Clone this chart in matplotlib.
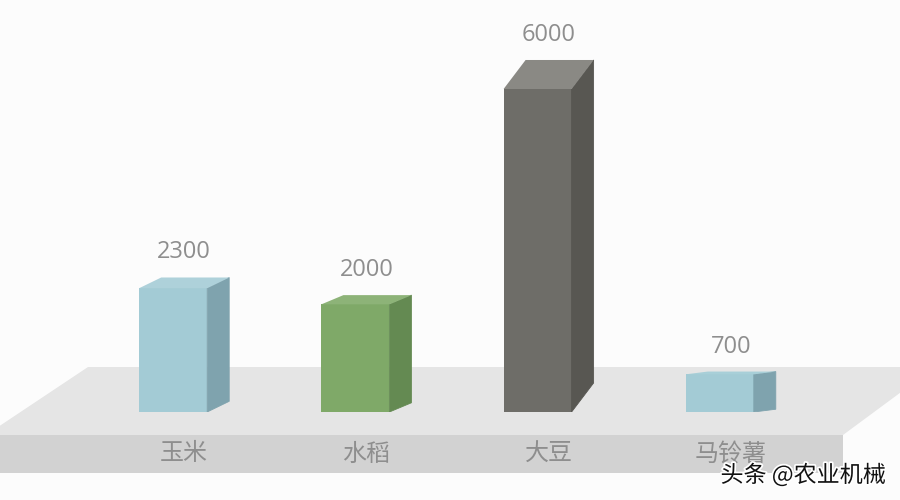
import numpy as np
from matplotlib import pyplot as plt
from matplotlib.patches import Polygon
import matplotlib.patheffects as pe

plt.rcParams['font.family'] = ['Noto Sans CJK SC', 'DejaVu Sans']

categories = ['玉米', '水稻', '大豆', '马铃薯']
values = [2300, 2000, 6000, 700]

front_colors = ['#a3cbd5', '#7fa968', '#6e6d68', '#a3cbd5']
side_colors = ['#7fa3ae', '#648a52', '#585752', '#7fa3ae']
top_colors = ['#aed1da', '#8db378', '#8a8984', '#a8cfd8']

units_per_px = 6000 / 323
step_px = 182.2
bar_width = 68 / step_px
depth = 22 / step_px
text_color = '#8e8e8e'

fig = plt.figure(figsize=(9, 5), dpi=100, facecolor='#fcfcfc')

# le sol, en pixels
floor = fig.add_axes([0, 0, 1, 1])
floor.set_xlim(0, 900)
floor.set_ylim(500, 0)
floor.axis('off')
floor.add_patch(Polygon([(-14, 435), (88, 367), (935, 367), (843, 435)], facecolor='#e5e5e5', edgecolor='none'))
floor.add_patch(Polygon([(-14, 435), (843, 435), (843, 473), (-14, 473)], facecolor='#d2d2d2', edgecolor='none'))

# les barres, y = 0 sur le sol
ax = fig.add_axes([0, 88 / 500, 1, 412 / 500])
ax.patch.set_visible(False)
ax.set_xlim(-173.2 / step_px, (900 - 173.2) / step_px)
ax.set_ylim(0, 412 * units_per_px)
for spine in ax.spines.values():
    spine.set_visible(False)

x = np.arange(len(categories))
ax.bar(x, values, width=bar_width, color=front_colors, zorder=3)

for i, v in enumerate(values):
    x0 = x[i] - bar_width / 2
    x1 = x[i] + bar_width / 2
    # la face arriere monte avec la hauteur de la barre
    rise = 0.092 * v - 13
    ax.add_patch(Polygon([(x1, 0), (x1 + depth, rise), (x1 + depth, v + rise), (x1, v)],
                         facecolor=side_colors[i], edgecolor=side_colors[i], linewidth=0.6, zorder=3))
    ax.add_patch(Polygon([(x0, v), (x1, v), (x1 + depth, v + rise), (x0 + depth, v + rise)],
                         facecolor=top_colors[i], edgecolor='none', zorder=3))
    ax.text(x[i] + depth / 2, v + rise + 25 * units_per_px, str(v), ha='center', va='center',
            fontsize=17, color=text_color, family=['Open Sans', 'DejaVu Sans'])

ax.set_yticks([])
ax.set_xticks(x + depth / 2, categories)
ax.tick_params(axis='x', length=0, pad=20.5, labelsize=17.3, labelcolor=text_color)

# filigrane
fig.text(803 / 900, 1 - 475 / 500, '头条 @农业机械', ha='center', va='center', fontsize=16.6, color='#111111',
         path_effects=[pe.withStroke(linewidth=2.5, foreground='white')])

fig.savefig('out.png', dpi=100, facecolor=fig.get_facecolor())
